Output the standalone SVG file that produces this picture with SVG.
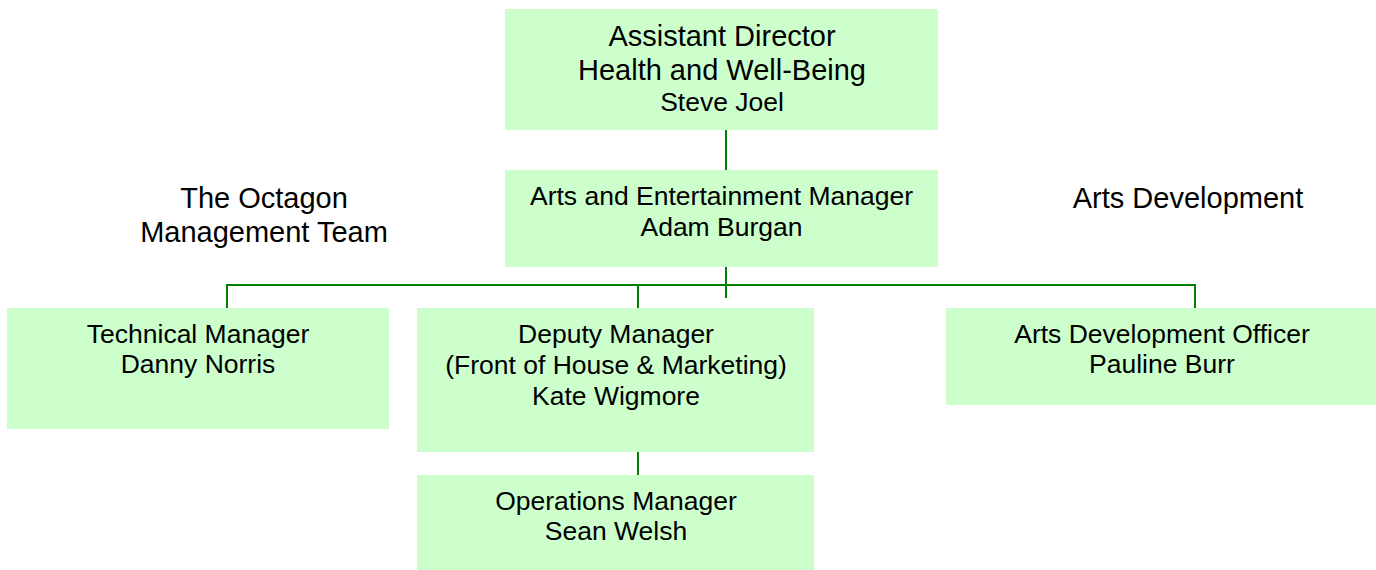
<svg xmlns="http://www.w3.org/2000/svg" width="1376" height="570" viewBox="0 0 1376 570">
<style>
.box{fill:#CCFFCC;stroke:none}
text{font-family:"Liberation Sans",Arial,sans-serif;fill:#000;text-anchor:middle}
.t{font-size:26.5px}
.b{font-size:29px}
.c{stroke:#008000;stroke-width:2;fill:none}
</style>
<rect width="1376" height="570" fill="#fff"/>
<g id="connectors">
<line class="c" x1="726" y1="130" x2="726" y2="170"/>
<line class="c" x1="726" y1="267" x2="726" y2="298"/>
<polyline class="c" points="227,308 227,285 1195,285 1195,308"/>
<line class="c" x1="638" y1="285" x2="638" y2="308"/>
<line class="c" x1="638" y1="452" x2="638" y2="475"/>
</g>
<g id="label-octagon">
<text class="b" x="264" y="208">The Octagon</text>
<text class="b" x="264" y="242">Management Team</text>
</g>
<g id="label-artsdev">
<text class="b" x="1188" y="208">Arts Development</text>
</g>
<g id="assistant-director">
<rect class="box" x="505" y="9" width="433" height="121"/>
<text class="b" x="722" y="46">Assistant Director</text>
<text class="b" x="722" y="80">Health and Well-Being</text>
<text class="t" x="722" y="111">Steve Joel</text>
</g>
<g id="ae-manager">
<rect class="box" x="505" y="170" width="433" height="97"/>
<text class="t" x="721.5" y="205">Arts and Entertainment Manager</text>
<text class="t" x="721.5" y="236">Adam Burgan</text>
</g>
<g id="technical-manager">
<rect class="box" x="7" y="308" width="382" height="121"/>
<text class="t" x="198" y="343">Technical Manager</text>
<text class="t" x="198" y="373">Danny Norris</text>
</g>
<g id="deputy-manager">
<rect class="box" x="417" y="308" width="397" height="144"/>
<text class="t" x="616" y="343">Deputy Manager</text>
<text class="t" x="616" y="374">(Front of House &amp; Marketing)</text>
<text class="t" x="616" y="405">Kate Wigmore</text>
</g>
<g id="operations-manager">
<rect class="box" x="417" y="475" width="397" height="95"/>
<text class="t" x="616" y="510">Operations Manager</text>
<text class="t" x="616" y="540">Sean Welsh</text>
</g>
<g id="arts-development-officer">
<rect class="box" x="946" y="308" width="430" height="97"/>
<text class="t" x="1162" y="343">Arts Development Officer</text>
<text class="t" x="1162" y="373">Pauline Burr</text>
</g>
</svg>
